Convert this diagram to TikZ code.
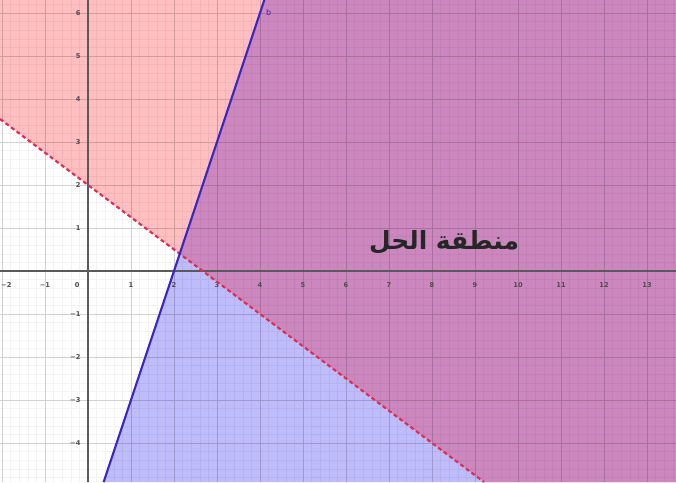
\documentclass[tikz,border=0pt]{standalone}
\usepackage{fontspec}
\TeXXeTstate=1
\newfontfamily\arabicfont[Script=Arabic]{DejaVu Sans}
\setsansfont{DejaVu Sans}
\definecolor{pinkreg}{RGB}{255,190,192}
\definecolor{bluereg}{RGB}{190,188,250}
\definecolor{purpreg}{RGB}{204,136,190}
\definecolor{bline}{RGB}{60,40,190}
\definecolor{rline}{RGB}{225,45,80}
\definecolor{axiscol}{RGB}{90,90,90}
\tikzset{
  minorgrid/.style={draw=black, opacity=0.05, line width=0.4pt},
  majorgrid/.style={draw=black, opacity=0.13, line width=0.6pt},
  axisline/.style={draw=axiscol, line width=0.8pt},
  ticklbl/.style={font=\sffamily\bfseries\fontsize{5}{6}\selectfont, text=black!70, inner sep=0pt},
  bluebound/.style={draw=bline, line width=1.6pt},
  redbound/.style={draw=rline, line width=1.6pt, dash pattern=on 3pt off 2.2pt},
}
\begin{document}
\begin{tikzpicture}[x=32.25pt,y=32.25pt]
\def\xmin{-2.0465}\def\xmax{13.674}\def\ymin{-4.907}\def\ymax{6.302}
\useasboundingbox (\xmin,\ymin) rectangle (\xmax,\ymax);
\fill[white] (\xmin,\ymin) rectangle (\xmax,\ymax);
% regions
\fill[pinkreg] (\xmin,3.535) -- (9.209,\ymin) -- (\xmax,\ymin) -- (\xmax,\ymax) -- (\xmin,\ymax) -- cycle;
\fill[bluereg] (0.3643,\ymin) -- (4.101,\ymax) -- (\xmax,\ymax) -- (\xmax,\ymin) -- cycle;
\fill[purpreg] (2.1333,0.4) -- (4.101,\ymax) -- (\xmax,\ymax) -- (\xmax,\ymin) -- (9.209,\ymin) -- cycle;
% grid
\draw[minorgrid] (\xmin,\ymin) grid[step=0.2] (\xmax,\ymax);
\draw[majorgrid] (\xmin,\ymin) grid[step=1] (\xmax,\ymax);
% axes
\coordinate (xl) at (\xmin,0);
\coordinate (xr) at (\xmax,0);
\coordinate (yb) at (0,\ymin);
\coordinate (yt) at (0,\ymax);
\draw[axisline] (xl) -- (xr);
\draw[axisline] (yb) -- (yt);
% tick labels
\node[ticklbl] (xtm2) at (-1.9,-0.33) {−2};
\node[ticklbl] (xtm1) at (-1,-0.33) {−1};
\foreach \i in {1,2,...,13} {\node[ticklbl] (xt\i) at (\i,-0.33) {\i};}
\foreach \i in {1,2,...,6} {\node[ticklbl,anchor=east] (yt\i) at (-0.17,\i) {\i};}
\foreach \i in {1,2,3,4} {\node[ticklbl,anchor=east] (ytm\i) at (-0.17,-\i) {−\i};}
\node[ticklbl] (orig) at (-0.25,-0.33) {0};
% boundary lines
\coordinate (b1) at (0.3643,\ymin);
\coordinate (b2) at (4.101,\ymax);
\coordinate (r1) at (\xmin,3.535);
\coordinate (r2) at (9.209,\ymin);
\draw[redbound] (r1) -- (r2);
\draw[bluebound] (b1) -- (b2);
\node[ticklbl, text=bline, font=\sffamily\fontsize{6}{7}\selectfont] (blbl) at (4.2,6.02) {b};
% solution label
\node[inner sep=0pt, text=black!85] (sol) at (8.28,0.67) {\arabicfont\bfseries\fontsize{18.7}{22}\selectfont\beginR منطقة الحل\endR};
\end{tikzpicture}
\end{document}
